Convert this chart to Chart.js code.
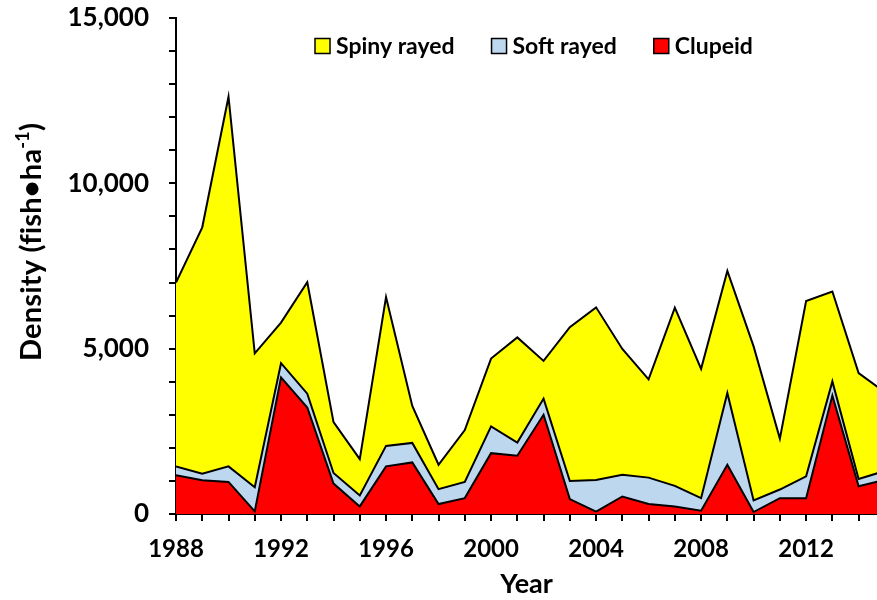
<!DOCTYPE html>
<html>
<head>
<meta charset="utf-8">
<script src="https://cdn.jsdelivr.net/npm/chart.js@4.4.0/dist/chart.umd.min.js"></script>
<style>
  html, body { margin: 0; padding: 0; background: #fff; overflow: hidden; }
</style>
</head>
<body>
<canvas id="densityChart" width="877" height="600"></canvas>
<script>
const years = [1988, 1989, 1990, 1991, 1992, 1993, 1994, 1995, 1996, 1997,
               1998, 1999, 2000, 2001, 2002, 2003, 2004, 2005, 2006, 2007,
               2008, 2009, 2010, 2011, 2012, 2013, 2014, 2015];

// fish per ha, stacked bottom to top
const clupeid = [1170, 1020, 970, 80, 4130, 3220, 920, 230, 1440, 1560,
                 300, 480, 1840, 1760, 3000, 450, 70, 530, 300, 230,
                 100, 1490, 60, 480, 480, 3580, 840, 1030];
const softRayed = [270, 200, 470, 730, 430, 420, 320, 330, 620, 590,
                   450, 490, 810, 400, 490, 550, 960, 660, 800, 620,
                   380, 2170, 350, 260, 660, 430, 220, 270];
const spinyRayed = [5560, 7450, 11180, 4050, 1230, 3370, 1540, 1100, 4500, 1120,
                    740, 1570, 2050, 3180, 1140, 4650, 5220, 3800, 2970, 5390,
                    3910, 3690, 4660, 1540, 5300, 2720, 3200, 2380];

const yTickLabels = [0, 5000, 10000, 15000];
const xLabelEvery = 4;

const fontFamily = 'Lato, "Open Sans", sans-serif';

function toPoints(values) {
    return years.map(function(yr, i) {
        return { x: yr, y: values[i] };
    });
}

// draws the legend inside the plot and the rotated y title with a superscript
const extras = {
    id: 'extras',
    afterDraw: function(chart) {
        const ctx = chart.ctx;
        ctx.save();

        // legend: top of stack first
        ctx.font = 'bold 23px ' + fontFamily;
        ctx.textBaseline = 'middle';
        ctx.textAlign = 'left';
        let x = 315;
        const y = 46;
        const items = chart.data.datasets.slice().reverse();
        for (let i = 0; i < items.length; i++) {
            ctx.fillStyle = items[i].backgroundColor;
            ctx.fillRect(x, y - 7.5, 15, 15);
            ctx.strokeStyle = '#000';
            ctx.lineWidth = 1.5;
            ctx.strokeRect(x, y - 7.5, 15, 15);
            ctx.fillStyle = '#000';
            ctx.fillText(items[i].label, x + 21, y + 1);
            x += 21 + ctx.measureText(items[i].label).width + 37;
        }

        // y title, no fi ligature
        if ('letterSpacing' in ctx) {
            ctx.letterSpacing = '0.2px';
        }
        ctx.translate(31, 242);
        ctx.rotate(-Math.PI / 2);
        const main = 'Density (fish\u2022ha';
        const sup = '-1';
        const tail = ')';
        ctx.font = 'bold 29px ' + fontFamily;
        const wMain = ctx.measureText(main).width;
        const wTail = ctx.measureText(tail).width;
        ctx.font = 'bold 18px ' + fontFamily;
        const wSup = ctx.measureText(sup).width;
        let tx = -(wMain + wSup + wTail) / 2;
        ctx.fillStyle = '#000';
        ctx.textBaseline = 'alphabetic';
        ctx.font = 'bold 29px ' + fontFamily;
        ctx.fillText(main, tx, 10);
        tx += wMain;
        ctx.font = 'bold 18px ' + fontFamily;
        ctx.fillText(sup, tx, -2);
        tx += wSup;
        ctx.font = 'bold 29px ' + fontFamily;
        ctx.fillText(tail, tx, 10);

        ctx.restore();
    }
};

const ctx = document.getElementById('densityChart').getContext('2d');
const densityChart = new Chart(ctx, {
    type: 'line',
    data: {
        datasets: [
            {
                label: 'Clupeid',
                data: toPoints(clupeid),
                backgroundColor: '#FF0000',
                borderColor: '#000000',
                borderWidth: 2,
                fill: 'origin'
            },
            {
                label: 'Soft rayed',
                data: toPoints(softRayed),
                backgroundColor: '#BDD7EE',
                borderColor: '#000000',
                borderWidth: 2,
                fill: '-1'
            },
            {
                label: 'Spiny rayed',
                data: toPoints(spinyRayed),
                backgroundColor: '#FFFF00',
                borderColor: '#000000',
                borderWidth: 2,
                fill: '-1'
            }
        ]
    },
    options: {
        responsive: false,
        animation: false,
        layout: {
            padding: { top: 18, left: 0, right: 0, bottom: 0 }
        },
        elements: {
            point: { radius: 0, hoverRadius: 0 },
            line: { tension: 0, borderJoinStyle: 'miter' }
        },
        plugins: {
            legend: { display: false },
            tooltip: { enabled: false },
            title: { display: false }
        },
        scales: {
            x: {
                type: 'linear',
                min: 1988,
                max: 2014.7,
                afterFit: function(scale) {
                    scale.height = 86;
                    scale.paddingLeft = 0;
                    scale.paddingRight = 0;
                },
                border: { display: true, color: '#000', width: 2 },
                grid: {
                    display: true,
                    drawOnChartArea: false,
                    drawTicks: true,
                    tickLength: 7,
                    color: '#000',
                    lineWidth: 2
                },
                ticks: {
                    stepSize: 1,
                    includeBounds: false,
                    autoSkip: false,
                    maxRotation: 0,
                    padding: 14,
                    color: '#000',
                    font: { family: fontFamily, size: 24, weight: 'bold' },
                    callback: function(value) {
                        return (value - years[0]) % xLabelEvery === 0 ? String(value) : '';
                    }
                },
                title: {
                    display: true,
                    text: 'Year',
                    color: '#000',
                    padding: { top: 0, bottom: 0 },
                    font: { family: fontFamily, size: 27, weight: 'bold' }
                }
            },
            y: {
                stacked: true,
                min: 0,
                max: 15000,
                afterFit: function(scale) {
                    scale.width = 176;
                    scale.paddingTop = 0;
                    scale.paddingBottom = 0;
                },
                border: { display: true, color: '#000', width: 2 },
                grid: {
                    display: true,
                    drawOnChartArea: false,
                    drawTicks: true,
                    tickLength: 7,
                    color: '#000',
                    lineWidth: 2
                },
                ticks: {
                    stepSize: 1000,
                    autoSkip: false,
                    padding: 20,
                    color: '#000',
                    font: { family: fontFamily, size: 26, weight: 'bold' },
                    callback: function(value) {
                        return yTickLabels.indexOf(value) >= 0 ? value.toLocaleString('en-US') : '';
                    }
                }
            }
        }
    },
    plugins: [extras]
});
</script>
</body>
</html>
